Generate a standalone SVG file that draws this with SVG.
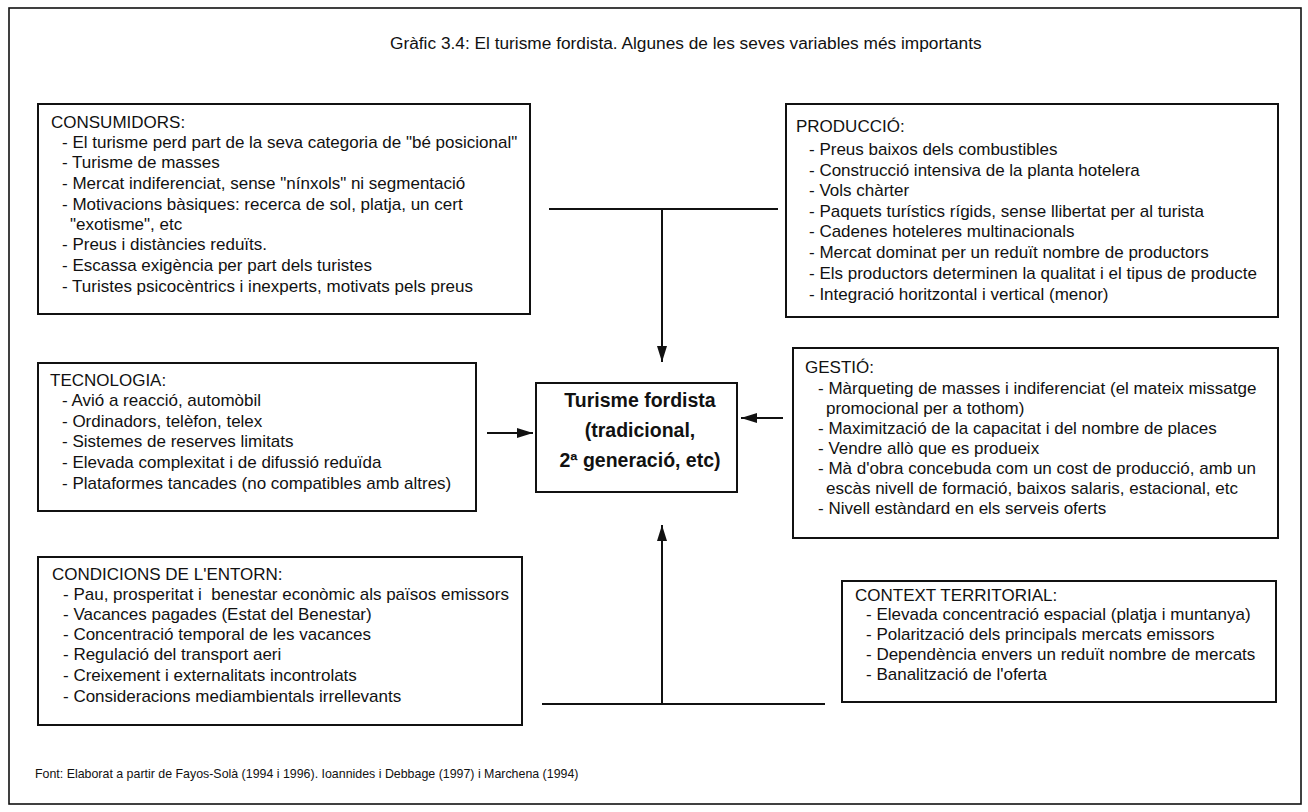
<svg xmlns="http://www.w3.org/2000/svg" width="1308" height="812" viewBox="0 0 1308 812">
<style>
  text { font-family: "Liberation Sans", Arial, sans-serif; fill: #111; }
  .t { font-size: 17px; }
  .title { font-size: 17.3px; }
  .foot { font-size: 12.4px; }
  .center { font-size: 19.5px; font-weight: bold; }
  .box { fill: #fff; stroke: #111; stroke-width: 2; }
  .frame { fill: #fff; stroke: #111; stroke-width: 1.6; }
  .conn { fill: none; stroke: #111; stroke-width: 2; }
</style>
<defs>
  <marker id="ah" markerUnits="userSpaceOnUse" markerWidth="16" markerHeight="10" refX="16" refY="5" orient="auto">
    <path d="M0,0 L16,5 L0,10 z" fill="#111"/>
  </marker>
</defs>
<rect x="0" y="0" width="1308" height="812" fill="#fff"/>
<rect class="frame" x="9" y="8" width="1292" height="796"/>
<text class="title" x="390" y="49">Gràfic 3.4: El turisme fordista. Algunes de les seves variables més importants</text>

<g id="connectors">
  <line class="conn" x1="549" y1="209" x2="778" y2="209"/>
  <line class="conn" x1="662" y1="209" x2="662" y2="362" marker-end="url(#ah)"/>
  <line class="conn" x1="487" y1="433" x2="533" y2="433" marker-end="url(#ah)"/>
  <line class="conn" x1="783" y1="418" x2="741" y2="418" marker-end="url(#ah)"/>
  <line class="conn" x1="542" y1="704" x2="825" y2="704"/>
  <line class="conn" x1="662" y1="704" x2="662" y2="525" marker-end="url(#ah)"/>
</g>

<g id="consumidors">
  <rect class="box" x="38" y="104" width="492" height="210"/>
  <text class="t" x="51" y="128">CONSUMIDORS:</text>
  <text class="t" x="62" y="148">- El turisme perd part de la seva categoria de "bé posicional"</text>
  <text class="t" x="62" y="168">- Turisme de masses</text>
  <text class="t" x="62" y="189">- Mercat indiferenciat, sense "nínxols" ni segmentació</text>
  <text class="t" x="62" y="210">- Motivacions bàsiques: recerca de sol, platja, un cert</text>
  <text class="t" x="70" y="230">"exotisme", etc</text>
  <text class="t" x="62" y="250">- Preus i distàncies reduïts.</text>
  <text class="t" x="62" y="271">- Escassa exigència per part dels turistes</text>
  <text class="t" x="62" y="292">- Turistes psicocèntrics i inexperts, motivats pels preus</text>
</g>

<g id="produccio">
  <rect class="box" x="786" y="104" width="492" height="213"/>
  <text class="t" x="796" y="132">PRODUCCIÓ:</text>
  <text class="t" x="809" y="155">- Preus baixos dels combustibles</text>
  <text class="t" x="809" y="176">- Construcció intensiva de la planta hotelera</text>
  <text class="t" x="809" y="196">- Vols chàrter</text>
  <text class="t" x="809" y="217">- Paquets turístics rígids, sense llibertat per al turista</text>
  <text class="t" x="809" y="237">- Cadenes hoteleres multinacionals</text>
  <text class="t" x="809" y="258">- Mercat dominat per un reduït nombre de productors</text>
  <text class="t" x="809" y="279">- Els productors determinen la qualitat i el tipus de producte</text>
  <text class="t" x="809" y="300">- Integració horitzontal i vertical (menor)</text>
</g>

<g id="tecnologia">
  <rect class="box" x="38" y="363" width="438" height="148"/>
  <text class="t" x="50" y="386">TECNOLOGIA:</text>
  <text class="t" x="62" y="406">- Avió a reacció, automòbil</text>
  <text class="t" x="62" y="427">- Ordinadors, telèfon, telex</text>
  <text class="t" x="62" y="447">- Sistemes de reserves limitats</text>
  <text class="t" x="62" y="468">- Elevada complexitat i de difussió reduïda</text>
  <text class="t" x="62" y="489">- Plataformes tancades (no compatibles amb altres)</text>
</g>

<g id="turisme-fordista">
  <rect class="box" x="536" y="383" width="201" height="109"/>
  <text class="center" x="640" y="407" text-anchor="middle">Turisme fordista</text>
  <text class="center" x="640" y="437" text-anchor="middle">(tradicional,</text>
  <text class="center" x="640" y="467" text-anchor="middle">2ª generació, etc)</text>
</g>

<g id="gestio">
  <rect class="box" x="793" y="348" width="485" height="190"/>
  <text class="t" x="805" y="373">GESTIÓ:</text>
  <text class="t" x="818" y="394">- Màrqueting de masses i indiferenciat (el mateix missatge</text>
  <text class="t" x="826" y="414">promocional per a tothom)</text>
  <text class="t" x="818" y="434">- Maximització de la capacitat i del nombre de places</text>
  <text class="t" x="818" y="454">- Vendre allò que es produeix</text>
  <text class="t" x="818" y="474">- Mà d'obra concebuda com un cost de producció, amb un</text>
  <text class="t" x="826" y="494">escàs nivell de formació, baixos salaris, estacional, etc</text>
  <text class="t" x="818" y="514">- Nivell estàndard en els serveis oferts</text>
</g>

<g id="condicions">
  <rect class="box" x="38" y="557" width="484" height="168"/>
  <text class="t" x="52" y="580">CONDICIONS DE L'ENTORN:</text>
  <text class="t" x="63" y="600" xml:space="preserve">- Pau, prosperitat i  benestar econòmic als països emissors</text>
  <text class="t" x="63" y="620">- Vacances pagades (Estat del Benestar)</text>
  <text class="t" x="63" y="640">- Concentració temporal de les vacances</text>
  <text class="t" x="63" y="660">- Regulació del transport aeri</text>
  <text class="t" x="63" y="681">- Creixement i externalitats incontrolats</text>
  <text class="t" x="63" y="702">- Consideracions mediambientals irrellevants</text>
</g>

<g id="context-territorial">
  <rect class="box" x="842" y="581" width="434" height="121"/>
  <text class="t" x="855" y="601">CONTEXT TERRITORIAL:</text>
  <text class="t" x="866" y="620">- Elevada concentració espacial (platja i muntanya)</text>
  <text class="t" x="866" y="640">- Polarització dels principals mercats emissors</text>
  <text class="t" x="866" y="660">- Dependència envers un reduït nombre de mercats</text>
  <text class="t" x="866" y="680">- Banalització de l'oferta</text>
</g>

<text class="foot" x="35" y="778">Font: Elaborat a partir de Fayos-Solà (1994 i 1996). Ioannides i Debbage (1997) i Marchena (1994)</text>
</svg>
